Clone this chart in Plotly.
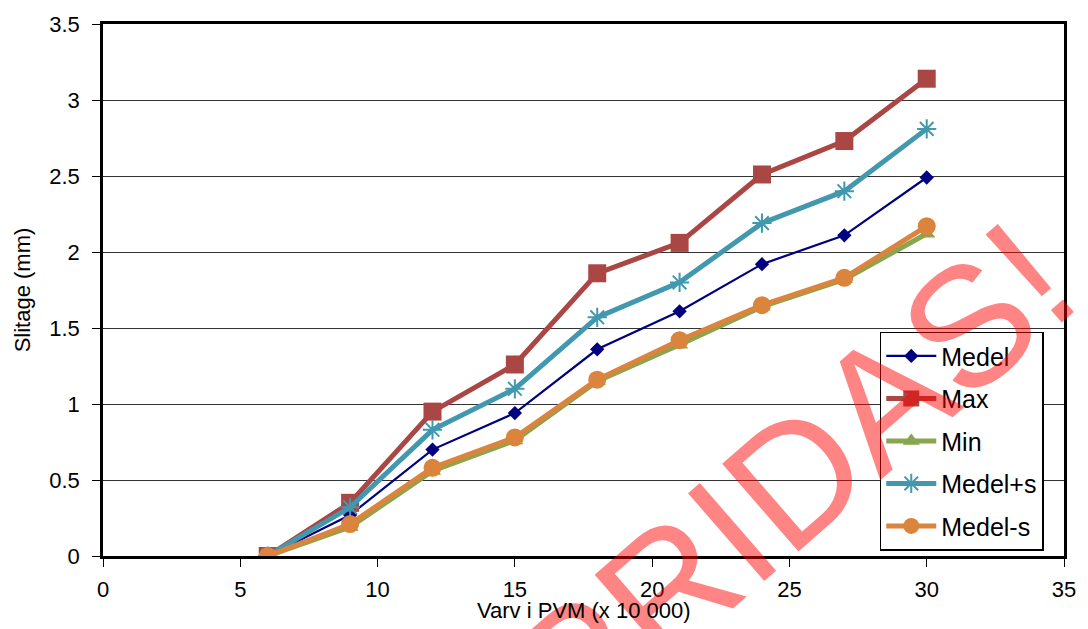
import plotly.graph_objects as go

varv = [6, 9, 12, 15, 18, 21, 24, 27, 30]
medel = [0.0, 0.27, 0.70, 0.94, 1.36, 1.61, 1.92, 2.11, 2.49]
maxv = [0.0, 0.35, 0.95, 1.26, 1.86, 2.06, 2.51, 2.73, 3.14]
minv = [0.0, 0.19, 0.56, 0.76, 1.15, 1.39, 1.64, 1.82, 2.12]
medel_plus_s = [0.0, 0.32, 0.83, 1.10, 1.57, 1.80, 2.19, 2.40, 2.81]
medel_minus_s = [0.0, 0.21, 0.58, 0.78, 1.16, 1.42, 1.65, 1.83, 2.17]
x_ticks = [0, 5, 10, 15, 20, 25, 30, 35]
y_ticks = [0, 0.5, 1, 1.5, 2, 2.5, 3, 3.5]
y_ticktext = ["0", "0.5", "1", "1.5", "2", "2.5", "3", "3.5"]

FONT = "Liberation Sans, Arial, sans-serif"

series = [
    ("Medel", medel, "#000080", 2.2, "diamond", 11),
    ("Max", maxv, "#AA4643", 5, "square", 18),
    ("Min", minv, "#89A54E", 5, "triangle-up", 15),
    ("Medel+s", medel_plus_s, "#4198AF", 5, "asterisk-open", 16),
    ("Medel-s", medel_minus_s, "#DB843D", 5, "circle", 18),
]

fig = go.Figure()
for name, vals, col, lw, sym, ms in series:
    marker = dict(symbol=sym, size=ms, color=col)
    if sym.endswith("open"):
        marker["line"] = dict(color=col, width=2)
    fig.add_trace(go.Scatter(
        x=varv, y=vals, name=name, mode="lines+markers",
        line=dict(color=col, width=lw), marker=marker,
        legendgroup=name,
    ))

L, R, T, B = 103, 1068, 20, 556
PW, PH = R - L, B - T

def px(xp):
    return (xp - L) / PW

def py(yp):
    return (B - yp) / PH

fig.add_annotation(
    text="SPRIDAS!", xref="paper", yref="paper",
    x=px(752), y=py(516),
    xanchor="center", yanchor="middle", showarrow=False,
    textangle=-41,
    font=dict(family=FONT, size=169, color="rgba(255,0,0,0.48)"),
)

fig.add_annotation(
    text="Varv i PVM (x 10 000)", xref="paper", yref="paper",
    x=0.5, y=py(611), xanchor="center", yanchor="middle", showarrow=False,
    font=dict(family=FONT, size=22, color="black"),
)
fig.add_annotation(
    text="Slitage (mm)", xref="paper", yref="paper",
    x=px(22), y=0.5, xanchor="center", yanchor="middle", showarrow=False,
    textangle=-90,
    font=dict(family=FONT, size=22, color="black"),
)

fig.update_layout(
    width=1088, height=629,
    margin=dict(l=L, r=1088 - R, t=T, b=629 - B),
    paper_bgcolor="white", plot_bgcolor="white",
    font=dict(family=FONT, size=22, color="black"),
    showlegend=True,
    legend=dict(
        x=px(883), y=py(330),
        xanchor="left", yanchor="top",
        bgcolor="white", bordercolor="black", borderwidth=1.5,
        font=dict(family=FONT, size=25, color="black"),
        tracegroupgap=7, traceorder="grouped", itemwidth=50,
    ),
    xaxis=dict(
        range=[0, 35], tickvals=x_ticks,
        showgrid=False, zeroline=False,
        showline=True, linecolor="black", linewidth=2.5, mirror=True,
        ticks="outside", ticklen=8, tickcolor="black", tickwidth=1,
        tickfont=dict(size=22), ticklabelstandoff=4,
    ),
    yaxis=dict(
        range=[0, 3.5], tickvals=y_ticks, ticktext=y_ticktext,
        showgrid=True, gridcolor="#333333", gridwidth=1, zeroline=False,
        showline=True, linecolor="black", linewidth=2.5, mirror=True,
        ticks="outside", ticklen=8, tickcolor="black", tickwidth=1,
        tickfont=dict(size=22), ticklabelstandoff=8,
    ),
)

fig.write_html("out.html")
